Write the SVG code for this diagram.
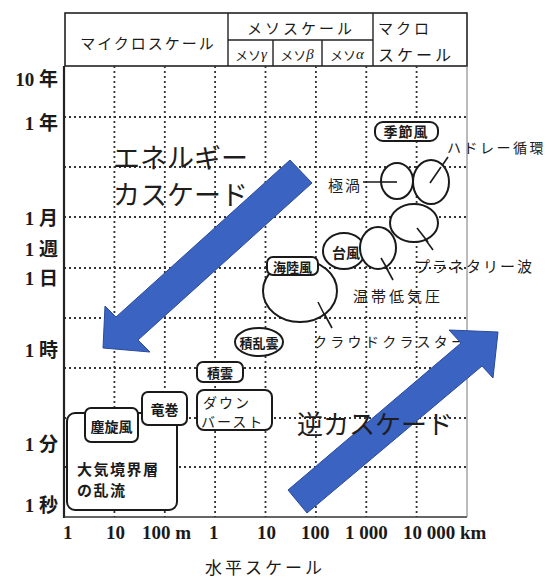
<svg xmlns="http://www.w3.org/2000/svg" width="549" height="578" viewBox="0 0 549 578">
<style>
.bg{fill:#ffffff}
.frame{stroke:#222;fill:none}
.grid{stroke:#333;stroke-width:1.8;stroke-dasharray:2 3;fill:none}
.node{fill:#fff;stroke:#1a1a1a;stroke-width:2}
.lead{stroke:#1a1a1a;stroke-width:1.6;fill:none}
.jp{font-family:"Noto Sans CJK JP","Noto Sans CJK SC",sans-serif;fill:#1a1a1a;dominant-baseline:central}
.nl{font-weight:bold}
.ax{font-family:"Liberation Serif","Noto Sans CJK JP",serif;font-weight:bold;font-size:19px;fill:#1a1a1a;dominant-baseline:central}
.big{font-family:"Noto Sans CJK JP","Noto Sans CJK SC",sans-serif;fill:#1e1e1e}
.arrow{fill:#3b63c2;stroke:#2a4a9a;stroke-width:1}
</style>
<rect class="bg" x="0" y="0" width="549" height="578"/>

<g id="header">
<rect class="frame" x="65" y="13" width="402" height="53" stroke-width="1.6"/>
<line class="frame" x1="228" y1="13" x2="228" y2="66" stroke-width="1.4"/>
<line class="frame" x1="373" y1="13" x2="373" y2="66" stroke-width="1.4"/>
<line class="frame" x1="228" y1="40" x2="373" y2="40" stroke-width="1.4"/>
<line class="frame" x1="273" y1="40" x2="273" y2="66" stroke-width="1.4"/>
<line class="frame" x1="322" y1="40" x2="322" y2="66" stroke-width="1.4"/>
<text class="jp" x="148" y="42" font-size="15" letter-spacing="2" text-anchor="middle">マイクロスケール</text>
<text class="jp" x="301" y="27" font-size="15" letter-spacing="3" text-anchor="middle">メソスケール</text>
<text class="jp" x="251" y="54" font-size="13" text-anchor="middle">メソ<tspan font-style="italic" font-family="Liberation Serif" font-size="15">γ</tspan></text>
<text class="jp" x="297" y="54" font-size="13" text-anchor="middle">メソ<tspan font-style="italic" font-family="Liberation Serif" font-size="15">β</tspan></text>
<text class="jp" x="347" y="54" font-size="13" text-anchor="middle">メソ<tspan font-style="italic" font-family="Liberation Serif" font-size="15">α</tspan></text>
<text class="jp" x="378" y="27" font-size="15" letter-spacing="3">マクロ</text>
<text class="jp" x="378" y="54" font-size="16" letter-spacing="3">スケール</text>
</g>

<g id="grid">
<path class="grid" d="M114.4 66V517M164.8 66V517M215.1 66V517M265.5 66V517M315.9 66V517M366.3 66V517M416.6 66V517"/>
<path class="grid" d="M64 117H467M64 167H467M64 217H467M64 268H467M64 318H467M64 368H467M64 418H467M64 467H467"/>
</g>

<g id="frame">
<line x1="64" y1="66" x2="64" y2="518" stroke="#222" stroke-width="2.2"/>
<line x1="64" y1="517" x2="467" y2="517" stroke="#333" stroke-width="1.3"/>
<line x1="467" y1="66" x2="467" y2="517" stroke="#777" stroke-width="1"/>
</g>

<g id="y-axis">
<text class="ax" x="58" y="79" text-anchor="end">10 年</text>
<text class="ax" x="58" y="123" text-anchor="end">1 年</text>
<text class="ax" x="58" y="218" text-anchor="end">1 月</text>
<text class="ax" x="58" y="249" text-anchor="end">1 週</text>
<text class="ax" x="58" y="278" text-anchor="end">1 日</text>
<text class="ax" x="58" y="350" text-anchor="end">1 時</text>
<text class="ax" x="58" y="444" text-anchor="end">1 分</text>
<text class="ax" x="58" y="505" text-anchor="end">1 秒</text>
</g>

<g id="x-axis">
<text class="ax" x="63" y="532" font-size="20">1</text>
<text class="ax" x="106" y="532" font-size="20">10</text>
<text class="ax" x="142" y="532" font-size="20">100 m</text>
<text class="ax" x="209" y="532" font-size="20">1</text>
<text class="ax" x="257" y="532" font-size="20">10</text>
<text class="ax" x="301" y="532" font-size="20">100</text>
<text class="ax" x="345" y="532" font-size="20">1 000</text>
<text class="ax" x="403" y="532" font-size="20">10 000 km</text>
<text class="jp" x="265" y="566" font-size="17" letter-spacing="3" text-anchor="middle">水平スケール</text>
</g>

<g id="connectors">
<line class="lead" x1="363" y1="182" x2="397" y2="182"/>
<line class="lead" x1="448" y1="157" x2="430" y2="183"/>
<line class="lead" x1="417" y1="228" x2="433" y2="250"/>
<line class="lead" x1="381" y1="258" x2="393" y2="280"/>
<line class="lead" x1="318" y1="302" x2="332" y2="328"/>
</g>

<g id="n-kyokuuzu"><ellipse class="node" cx="397" cy="181" rx="16" ry="18"/><line class="lead" x1="382" y1="182" x2="397" y2="182"/><text class="jp" x="345" y="184" font-size="15" letter-spacing="2" text-anchor="middle">極渦</text></g>
<g id="n-hadley"><ellipse class="node" cx="431" cy="182" rx="18" ry="22"/><line class="lead" x1="441" y1="167" x2="430" y2="183"/><text class="jp" x="447" y="147" font-size="14" letter-spacing="2.5">ハドレー循環</text></g>
<g id="n-kisetsufu"><rect class="node" x="375" y="122" width="63" height="19" rx="8"/><text class="jp nl" x="406" y="131" font-size="14" letter-spacing="1" text-anchor="middle">季節風</text></g>
<g id="n-planetary"><ellipse class="node" cx="414" cy="223" rx="24" ry="19"/><line class="lead" x1="417" y1="228" x2="428" y2="242"/><text class="jp" x="415" y="265" font-size="15" letter-spacing="2">プラネタリー波</text></g>
<g id="n-taifu"><ellipse class="node" cx="344" cy="251" rx="21" ry="18"/><text class="jp nl" x="346" y="252" font-size="14" text-anchor="middle">台風</text></g>
<g id="n-ontai"><ellipse class="node" cx="378" cy="248" rx="18" ry="21"/><line class="lead" x1="381" y1="258" x2="388" y2="270"/><text class="jp" x="353" y="295" font-size="15" letter-spacing="3">温帯低気圧</text></g>
<g id="n-cloudcluster"><ellipse class="node" cx="300" cy="291" rx="37" ry="31"/><line class="lead" x1="318" y1="302" x2="326" y2="318"/><text class="jp" x="313" y="341" font-size="14" letter-spacing="3.3">クラウドクラスター</text></g>
<g id="n-kairikufu"><rect class="node" x="267" y="257" width="51" height="18" rx="6"/><text class="jp nl" x="292.5" y="266" font-size="13" text-anchor="middle">海陸風</text></g>
<g id="n-sekiranun"><ellipse class="node" cx="259" cy="342" rx="24" ry="14"/><text class="jp nl" x="259" y="342" font-size="13" text-anchor="middle">積乱雲</text></g>
<g id="n-sekiun"><rect class="node" x="197" y="362" width="46" height="20" rx="6"/><text class="jp nl" x="220" y="372" font-size="13" text-anchor="middle">積雲</text></g>
<g id="n-downburst"><rect class="node" x="197" y="390" width="75" height="40" rx="7"/><text class="jp" x="203" y="402" font-size="14" letter-spacing="2">ダウン</text><text class="jp" x="201" y="421" font-size="14" letter-spacing="2">バースト</text></g>
<g id="n-boundary"><rect class="node" x="67" y="413" width="110" height="97" rx="8"/><text class="jp nl" x="77" y="468" font-size="15" letter-spacing="1.5">大気境界層</text><text class="jp nl" x="77" y="489" font-size="15" letter-spacing="1.5">の乱流</text></g>
<g id="n-tatsumaki"><rect class="node" x="142" y="392" width="45" height="33" rx="6"/><text class="jp nl" x="164.5" y="409" font-size="14" text-anchor="middle">竜巻</text></g>
<g id="n-jinsenpu"><rect class="node" x="85" y="408" width="53" height="34" rx="6"/><text class="jp nl" x="111.5" y="426" font-size="14" text-anchor="middle">塵旋風</text></g>

<g id="arrows">
<polygon class="arrow" points="290,160 312,183 138,340 150,352 103,348 105,306 116,317"/>
<polygon class="arrow" points="288,490 461,343 449,330 498,332 493,378 482,366 307,513"/>
</g>

<g id="big-labels">
<text class="big" x="113" y="168" font-size="27">エネルギー</text>
<text class="big" x="113" y="205" font-size="27">カスケード</text>
<text class="big" x="297" y="434" font-size="26">逆カスケード</text>
</g>
</svg>
